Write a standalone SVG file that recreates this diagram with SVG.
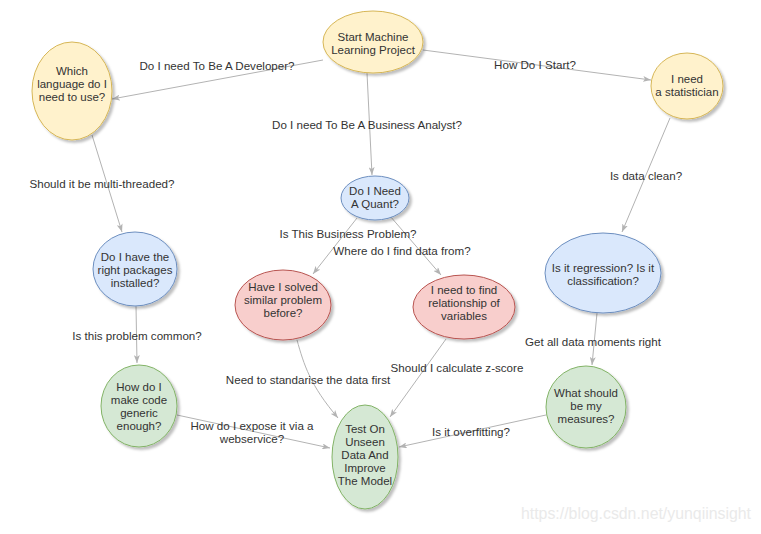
<svg xmlns="http://www.w3.org/2000/svg" width="761" height="534" viewBox="0 0 761 534">
<style>
text{font-family:"Liberation Sans",Arial,sans-serif;fill:#333;text-anchor:middle}
.n{font-size:11.5px}
.l{font-size:11.6px}
.y{fill:#fff2cc;stroke:#d6b656}
.b{fill:#dae8fc;stroke:#6c8ebf}
.r{fill:#f8cecc;stroke:#b85450}
.g{fill:#d5e8d4;stroke:#82b366}
ellipse{stroke-width:1;filter:url(#sh)}
.e{fill:none;stroke:#b3b3b3;stroke-width:1;marker-end:url(#ar)}
</style>
<defs>
<filter id="sh" x="-20%" y="-20%" width="150%" height="150%">
<feDropShadow dx="2.5" dy="2.5" stdDeviation="1.2" flood-color="#000" flood-opacity="0.25"/>
</filter>
<marker id="ar" viewBox="0 0 8 6" refX="8" refY="3" markerWidth="8" markerHeight="6" markerUnits="userSpaceOnUse" orient="auto">
<path d="M0,0 L8,3 L0,6 L2,3 Z" fill="#b3b3b3"/>
</marker>
</defs>
<rect width="761" height="534" fill="#fff"/>
<g id="connectors">
<path class="e" d="M323 60 L112 99"/>
<path class="e" d="M423 50 L651 80"/>
<path class="e" d="M367 73 L372 175"/>
<path class="e" d="M92 135 L122 232"/>
<path class="e" d="M670 118 L622 232"/>
<path class="e" d="M357 218 L313 274"/>
<path class="e" d="M390 216 L441 275"/>
<path class="e" d="M136 306 L137 363"/>
<path class="e" d="M597 313 L592 365"/>
<path class="e" d="M297 340 C304 365 310 385 338 418"/>
<path class="e" d="M446 339 L390 417"/>
<path class="e" d="M177 415 L330 448"/>
<path class="e" d="M546 415 L399 447"/>
</g>
<g id="edge-labels">
<text class="l" x="217" y="70">Do I need To Be A Developer?</text>
<text class="l" x="535" y="69">How Do I Start?</text>
<text class="l" x="367" y="129">Do I need To Be A Business Analyst?</text>
<text class="l" x="102" y="188">Should it be multi-threaded?</text>
<text class="l" x="646" y="180">Is data clean?</text>
<text class="l" x="348" y="238">Is This Business Problem?</text>
<text class="l" x="402" y="255">Where do I find data from?</text>
<text class="l" x="137" y="340">Is this problem common?</text>
<text class="l" x="593" y="346">Get all data moments right</text>
<text class="l" x="308" y="384">Need to standarise the data first</text>
<text class="l" x="457" y="372">Should I calculate z-score</text>
<text class="l" x="252" y="429.5">How do I expose it via a</text>
<text class="l" x="252" y="442.5">webservice?</text>
<text class="l" x="471" y="436">Is it overfitting?</text>
</g>
<g id="start">
<ellipse class="y" cx="373" cy="42" rx="50" ry="31"/>
<text class="n" x="373" y="41">Start Machine</text>
<text class="n" x="373" y="54">Learning Project</text>
</g>
<g id="language">
<ellipse class="y" cx="72" cy="91" rx="40" ry="49"/>
<text class="n" x="72" y="74.5">Which</text>
<text class="n" x="72" y="87.5">language do I</text>
<text class="n" x="72" y="100.5">need to use?</text>
</g>
<g id="statistician">
<ellipse class="y" cx="687" cy="86" rx="36" ry="33"/>
<text class="n" x="687" y="83">I need</text>
<text class="n" x="687" y="96">a statistician</text>
</g>
<g id="quant">
<ellipse class="b" cx="375" cy="198" rx="34" ry="22"/>
<text class="n" x="375" y="195">Do I Need</text>
<text class="n" x="375" y="208">A Quant?</text>
</g>
<g id="packages">
<ellipse class="b" cx="135" cy="269" rx="42" ry="37"/>
<text class="n" x="135" y="261">Do I have the</text>
<text class="n" x="135" y="274">right packages</text>
<text class="n" x="135" y="287">installed?</text>
</g>
<g id="regression">
<ellipse class="b" cx="603" cy="273" rx="58" ry="40"/>
<text class="n" x="603" y="271.5">Is it regression? Is it</text>
<text class="n" x="603" y="284.5">classification?</text>
</g>
<g id="solved">
<ellipse class="r" cx="283" cy="305" rx="48" ry="35"/>
<text class="n" x="283" y="291">Have I solved</text>
<text class="n" x="283" y="304">similar problem</text>
<text class="n" x="283" y="317">before?</text>
</g>
<g id="relationship">
<ellipse class="r" cx="464" cy="307" rx="51" ry="32"/>
<text class="n" x="464" y="294">I need to find</text>
<text class="n" x="464" y="307">relationship of</text>
<text class="n" x="464" y="320">variables</text>
</g>
<g id="generic">
<ellipse class="g" cx="139" cy="406" rx="38" ry="41"/>
<text class="n" x="139" y="390.5">How do I</text>
<text class="n" x="139" y="403.5">make code</text>
<text class="n" x="139" y="416.5">generic</text>
<text class="n" x="139" y="429.5">enough?</text>
</g>
<g id="test">
<ellipse class="g" cx="365" cy="457" rx="33" ry="52"/>
<text class="n" x="365" y="433">Test On</text>
<text class="n" x="365" y="446">Unseen</text>
<text class="n" x="365" y="459">Data And</text>
<text class="n" x="365" y="472">Improve</text>
<text class="n" x="365" y="485">The Model</text>
</g>
<g id="measures">
<ellipse class="g" cx="586" cy="407" rx="40" ry="41"/>
<text class="n" x="586" y="396.5">What should</text>
<text class="n" x="586" y="409.5">be my</text>
<text class="n" x="586" y="422.5">measures?</text>
</g>
<text x="636" y="519" style="font-size:16px;fill:#eaeaea" textLength="230" lengthAdjust="spacingAndGlyphs">https://blog.csdn.net/yunqiinsight</text>
</svg>
